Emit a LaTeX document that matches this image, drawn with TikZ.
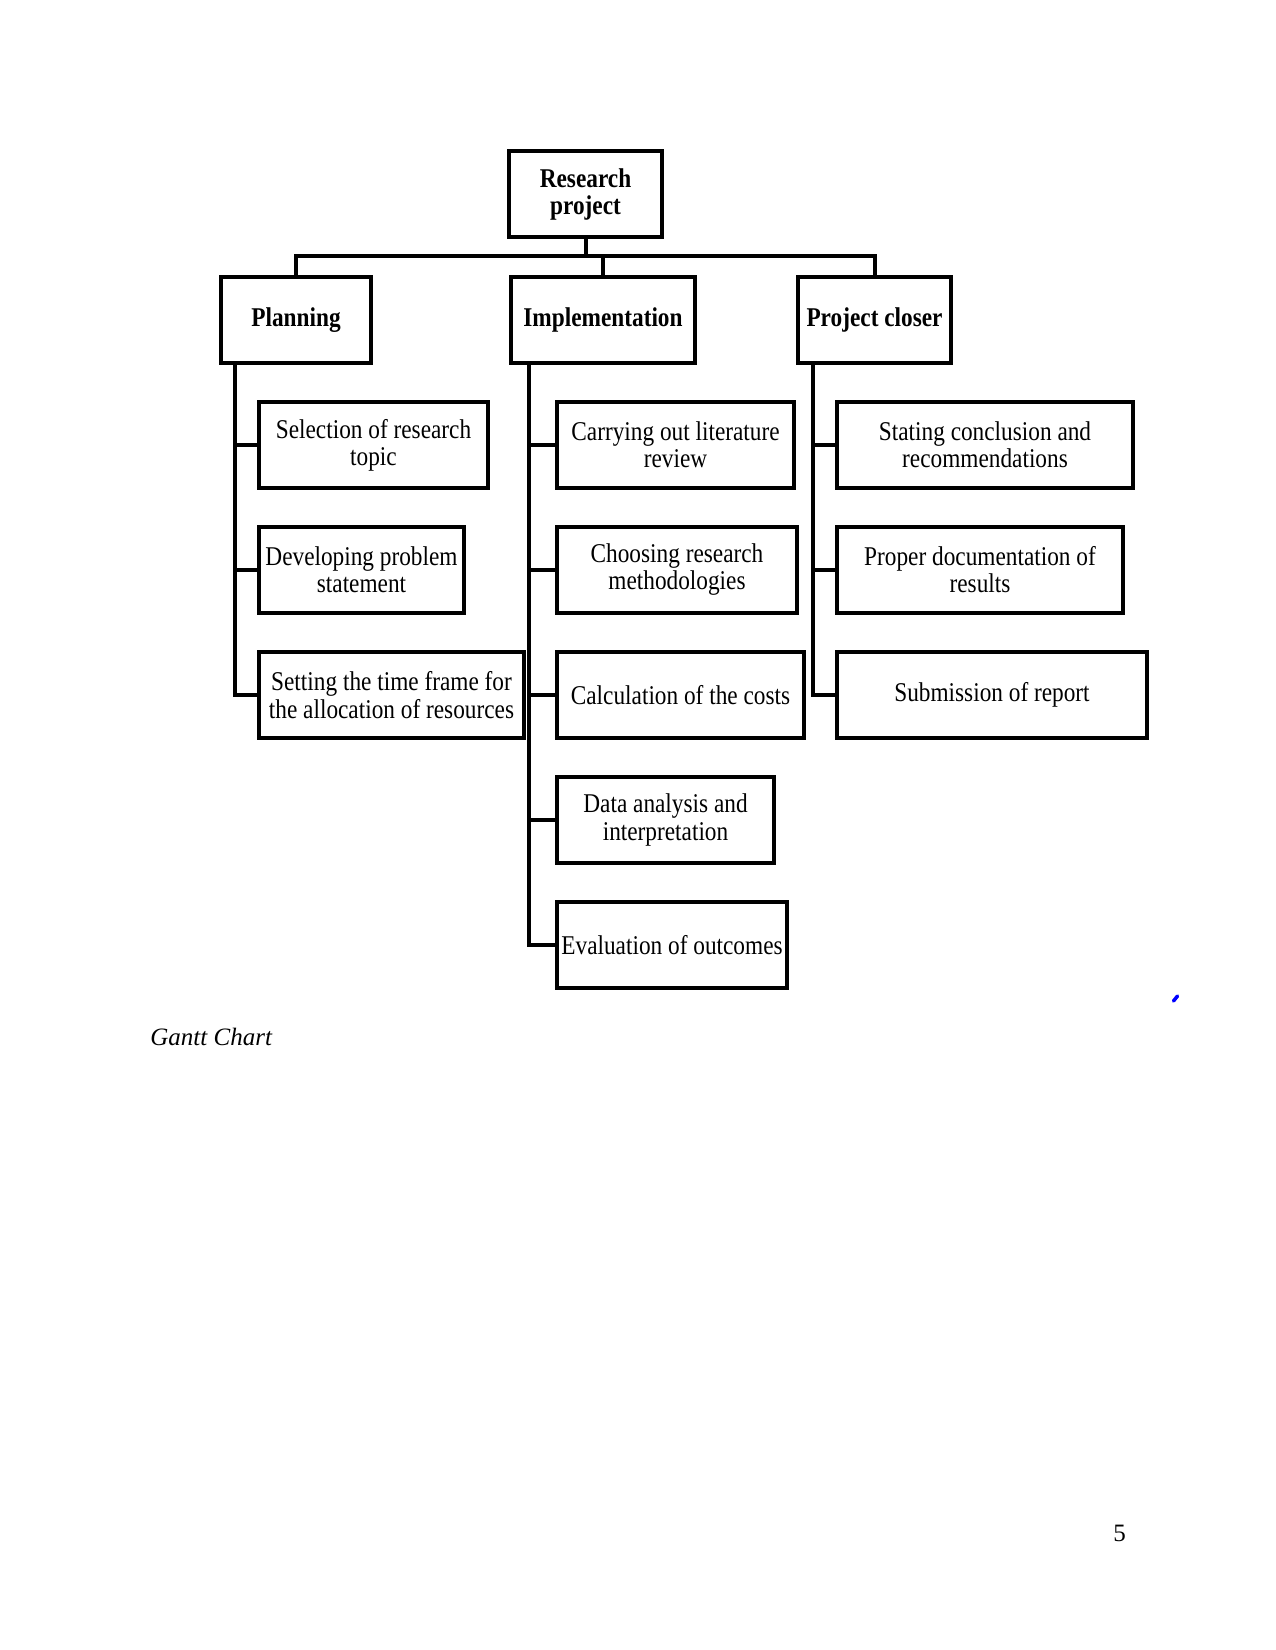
\documentclass[tikz,border=0pt]{standalone}
\usepackage{fontspec}
\setmainfont{Liberation Serif}
\newfontfamily\boxfont[FakeStretch=0.86]{Liberation Serif}
\newdimen\px \px=0.48pt
\tikzset{
  box/.style={draw, line width=4\px, align=center, inner sep=0pt,
    minimum height=86\px, font=\boxfont\fontsize{13}{13.1}\selectfont},
  head/.style={box, font=\boxfont\bfseries\fontsize{13}{13.1}\selectfont},
  link/.style={line width=4\px}
}
\begin{document}
\begin{tikzpicture}[x=0.48pt,y=-0.48pt]
            \useasboundingbox (0,0) rectangle (1275,1650);
            % top levels
            \draw (585.5,194.5) node[head,minimum width=153\px] (Research) {Research\\project};
            \draw (296,320) node[head,minimum width=150\px] (Planning) {Planning};
            \draw (603,320) node[head,minimum width=184\px] (Implementation) {Implementation};
            \draw (874.5,320) node[head,minimum width=153\px] (Closer) {Project closer};
            % planning
            \draw (373.5,445) node[box,minimum width=229\px] (Selection) {Selection of research\\topic};
            \draw (361.5,569.5) node[box,minimum width=205\px] (Developing) {Developing problem\\statement};
            \draw (391.5,695) node[box,minimum width=265\px] (Setting) {Setting the time frame for\\the allocation of resources};
            % implementation
            \draw (675.5,445) node[box,minimum width=237\px] (Carrying) {Carrying out literature\\review};
            \draw (677,569.5) node[box,minimum width=240\px] (Choosing) {Choosing research\\methodologies};
            \draw (680.5,695) node[box,minimum width=247\px] (Calculation) {Calculation of the costs};
            \draw (665.5,820) node[box,minimum width=217\px] (Data) {Data analysis and\\interpretation};
            \draw (672,945) node[box,minimum width=230\px] (Evaluation) {Evaluation of outcomes};
            % project closer
            \draw (985,445) node[box,minimum width=296\px] (Stating) {Stating conclusion and\\recommendations};
            \draw (980,569.5) node[box,minimum width=286\px] (Proper) {Proper documentation of\\results};
            \draw (992,695) node[box,minimum width=310\px] (Submission) {Submission of report};

            % bus
            \coordinate (Bus) at (0,256);
            \draw[link] (Research.south) -- (Research.south |- Bus);
            \draw[link] (Planning.north) -- (Planning.north |- Bus) -- (Closer.north |- Bus) -- (Closer.north);
            \draw[link] (Implementation.north) -- (Implementation.north |- Bus);

            % spines
            \coordinate (PlanSpine) at ([xshift=16\px]Planning.south west);
            \coordinate (ImpSpine) at ([xshift=20\px]Implementation.south west);
            \coordinate (CloSpine) at ([xshift=17\px]Closer.south west);
            \draw[link] (PlanSpine) |- (Setting.west);
            \draw[link] (Selection.west) -- (Selection.west -| PlanSpine);
            \draw[link] (Developing.west) -- (Developing.west -| PlanSpine);
            \draw[link] (ImpSpine) |- (Evaluation.west);
            \draw[link] (Carrying.west) -- (Carrying.west -| ImpSpine);
            \draw[link] (Choosing.west) -- (Choosing.west -| ImpSpine);
            \draw[link] (Calculation.west) -- (Calculation.west -| ImpSpine);
            \draw[link] (Data.west) -- (Data.west -| ImpSpine);
            \draw[link] (CloSpine) |- (Submission.west);
            \draw[link] (Stating.west) -- (Stating.west -| CloSpine);
            \draw[link] (Proper.west) -- (Proper.west -| CloSpine);

            % page texts
            \draw (150,1045) node[anchor=base west,inner sep=0pt,font=\itshape\fontsize{12}{14}\selectfont] (Caption) {Gantt Chart};
            \draw (1113,1541) node[anchor=base west,inner sep=0pt,font=\fontsize{12}{14}\selectfont] (PageNum) {5};
            \draw[blue,line width=3.5\px,line cap=round] (1173.5,1001) -- (1177.5,996);
\end{tikzpicture}
\end{document}
